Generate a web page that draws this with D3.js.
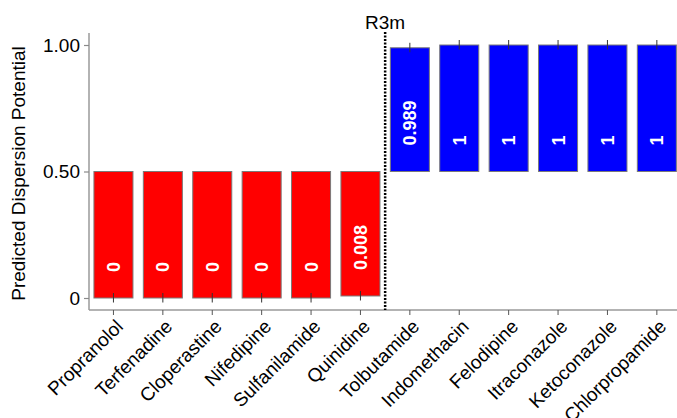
<!DOCTYPE html>
<html>
<head>
<meta charset="utf-8">
<script src="https://cdn.jsdelivr.net/npm/d3@7"></script>
<style>
  html, body { margin: 0; padding: 0; background: #fff; }
  svg { display: block; font-family: "Liberation Sans", Arial, sans-serif; }
</style>
</head>
<body>
<svg id="chart" width="677" height="418"></svg>
<script>
// Compounds in plot order, with their predicted dispersion potential
const compounds = ["Propranolol", "Terfenadine", "Cloperastine", "Nifedipine", "Sulfanilamide", "Quinidine",
                   "Tolbutamide", "Indomethacin", "Felodipine", "Itraconazole", "Ketoconazole", "Chlorpropamide"];
const potentials = [0, 0, 0, 0, 0, 0.008, 0.989, 1, 1, 1, 1, 1];
const valueLabels = ["0", "0", "0", "0", "0", "0.008", "0.989", "1", "1", "1", "1", "1"];
const yTicks = [0, 0.5, 1];
const yTickLabels = ["0", "0.50", "1.00"];
const threshold = 0.5;          // bars grow from the 0.5 decision line
const regionLabel = "R3m";
const yTitle = "Predicted Dispersion Potential";

const svg = d3.select("#chart");
const axisX0 = 89, axisY = 310;

const x = d3.scaleBand()
  .domain(compounds)
  .range([axisX0, 681.3])
  .paddingInner(0.21)
  .paddingOuter(0.1);

const y = d3.scaleLinear().domain([0, 1]).range([298, 45]);

const data = compounds.map((c, i) => ({ name: c, value: potentials[i], label: valueLabels[i] }));

// Axis lines
svg.append("line")
  .attr("x1", axisX0).attr("x2", axisX0)
  .attr("y1", 33).attr("y2", axisY)
  .attr("stroke", "#9a9a9a").attr("stroke-width", 1.5);
svg.append("line")
  .attr("x1", axisX0).attr("x2", 677)
  .attr("y1", axisY).attr("y2", axisY)
  .attr("stroke", "#9a9a9a").attr("stroke-width", 1.5);

// Y axis ticks and labels
const yAxis = d3.axisLeft(y)
  .tickValues(yTicks)
  .tickFormat((d, i) => yTickLabels[i])
  .tickSize(5)
  .tickPadding(4);
const gy = svg.append("g").attr("transform", `translate(${axisX0},0)`).call(yAxis);
gy.select(".domain").remove();
gy.selectAll(".tick line").attr("stroke", "#8a8a8a").attr("stroke-width", 1.2);
gy.selectAll(".tick text")
  .attr("font-size", 19).attr("fill", "#000")
  .attr("font-family", "Liberation Sans, Arial, sans-serif");

// Bars, anchored at the threshold line
svg.append("g").selectAll("rect")
  .data(data)
  .join("rect")
  .attr("x", d => x(d.name))
  .attr("width", x.bandwidth())
  .attr("y", d => y(Math.max(d.value, threshold)))
  .attr("height", d => Math.abs(y(d.value) - y(threshold)))
  .attr("fill", d => d.value >= threshold ? "#0000ff" : "#ff0000")
  .attr("stroke", "#7a7a7a")
  .attr("stroke-width", 1);

// Small error-bar ticks at each bar's value end
svg.append("g").selectAll("line")
  .data(data)
  .join("line")
  .attr("x1", d => x(d.name) + x.bandwidth() / 2)
  .attr("x2", d => x(d.name) + x.bandwidth() / 2)
  .attr("y1", d => y(d.value) - 5)
  .attr("y2", d => y(d.value) + 4.5)
  .attr("stroke", "#333").attr("stroke-width", 1);

// Value labels written vertically inside the bars
svg.append("g").selectAll("text")
  .data(data)
  .join("text")
  .attr("transform", d => {
    const cx = x(d.name) + x.bandwidth() / 2;
    const lower = y(Math.min(d.value, threshold));
    return `translate(${cx},${lower - 26}) rotate(-90)`;
  })
  .attr("text-anchor", "start")
  .attr("dy", "0.36em")
  .attr("fill", "#fff")
  .attr("font-size", 18)
  .attr("font-weight", "bold")
  .text(d => d.label);

// X axis ticks and rotated compound names
const gx = svg.append("g");
gx.selectAll("line")
  .data(compounds)
  .join("line")
  .attr("x1", d => x(d) + x.bandwidth() / 2)
  .attr("x2", d => x(d) + x.bandwidth() / 2)
  .attr("y1", axisY).attr("y2", axisY + 5)
  .attr("stroke", "#555").attr("stroke-width", 1);
gx.selectAll("text")
  .data(compounds)
  .join("text")
  .attr("transform", d => `translate(${x(d) + x.bandwidth() / 2 + 6},${axisY + 13}) rotate(-45)`)
  .attr("text-anchor", "end")
  .attr("dy", "0.35em")
  .attr("font-size", 19)
  .attr("fill", "#000")
  .text(d => d);

// Dotted separator between the two predicted classes
const splitX = (x(compounds[5]) + x(compounds[6]) + x.bandwidth()) / 2;
svg.append("line")
  .attr("x1", splitX).attr("x2", splitX)
  .attr("y1", 32).attr("y2", axisY)
  .attr("stroke", "#000")
  .attr("stroke-width", 2.5)
  .attr("stroke-dasharray", "2,1.5");
svg.append("text")
  .attr("x", splitX).attr("y", 29)
  .attr("text-anchor", "middle")
  .attr("font-size", 19)
  .attr("fill", "#000")
  .text(regionLabel);

// Y axis title
svg.append("text")
  .attr("transform", `translate(18,${(47 + 300) / 2}) rotate(-90)`)
  .attr("text-anchor", "middle")
  .attr("dy", "0.35em")
  .attr("font-size", 19)
  .attr("fill", "#000")
  .text(yTitle);
</script>
</body>
</html>
